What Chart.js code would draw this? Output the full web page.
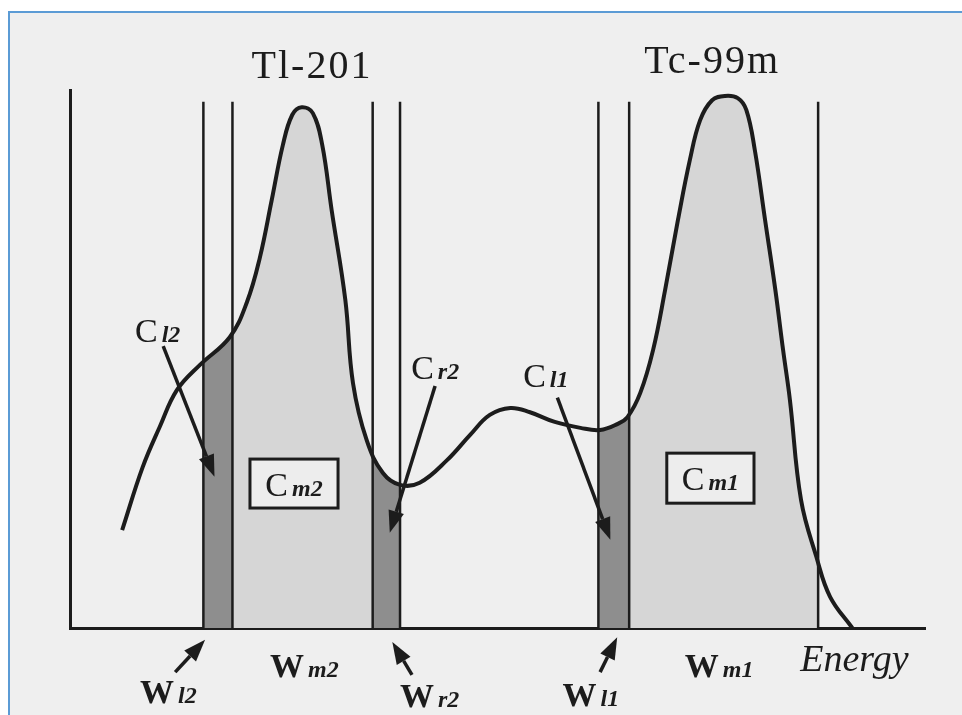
<!DOCTYPE html>
<html>
<head>
<meta charset="utf-8">
<script src="https://cdn.jsdelivr.net/npm/chart.js@4.4.1/dist/chart.umd.min.js"></script>
<style>
  html, body { margin: 0; padding: 0; background: #ffffff; overflow: hidden; }
  #frame {
    position: absolute; left: 8px; top: 11px; width: 960px; height: 710px;
    background: #efefef; border-left: 2px solid #5b9bd5; border-top: 2px solid #5b9bd5;
  }
  #wrap { position: absolute; left: 0; top: 0; width: 962px; height: 715px; }
</style>
</head>
<body>
<div id="frame"></div>
<div id="wrap"><canvas id="spectrum" width="962" height="715"></canvas></div>
<script>
// energy spectrum (arbitrary units)
const energy = [6.1, 8.5, 10.5, 12.5, 15.2, 18.7, 20.7, 22.2, 23.6, 24.9, 26.0, 27.1, 28.4, 29.5, 30.6, 32.2,
    33.1, 34.7, 36.6, 38.6, 40.9, 44.1, 46.8, 49.1, 51.5, 53.8, 56.7, 59.7, 62.0, 64.0, 65.2, 66.7, 68.2,
    69.6, 71.1, 72.5, 73.7, 75.1, 76.6, 78.1, 79.1, 80.1, 81.3, 82.5, 83.4, 84.2, 85.5, 87.3, 88.9, 91.5];
const counts = [18.2, 29.9, 37.4, 44.2, 48.9, 54.1, 60.6, 68.8, 79.6, 89.8, 95.4, 96.8, 95.7, 89.8, 77.7, 61.0,
    45.5, 34.9, 28.8, 26.6, 27.0, 31.2, 35.9, 39.6, 40.9, 40.1, 38.3, 37.2, 36.8, 37.9, 39.2, 43.7, 51.7,
    62.8, 75.8, 87.0, 94.4, 98.1, 98.9, 98.5, 96.3, 88.8, 75.8, 62.8, 51.7, 42.4, 23.8, 13.2, 5.8, 0];

// energy windows
const windowNames = ['Wl2', 'Wm2', 'Wr2', 'Wl1', 'Wm1'];
const windowStart = [15.6, 19.0, 35.4, 61.8, 65.4];
const windowEnd = [19.0, 35.4, 38.6, 65.4, 87.5];
const windowKind = ['sub', 'main', 'sub', 'sub', 'main'];
const edgeTop = 97.8;

const shade = { sub: '#8e8e8e', main: '#d6d6d6' };
const ink = '#1c1c1c';
const serif = '"Liberation Serif", "DejaVu Serif", serif';

// window edge lines (each distinct edge once)
const edges = [...new Set(windowStart.concat(windowEnd))];

const labels = [
    { main: 'C', sub: 'l2', x: 7.6, y: 53.2 },
    { main: 'C', sub: 'r2', x: 39.9, y: 46.3 },
    { main: 'C', sub: 'l1', x: 53.0, y: 44.8 },
    { main: 'W', sub: 'l2', x: 8.2, y: -13.9, bold: true },
    { main: 'W', sub: 'm2', x: 23.4, y: -9.1, bold: true },
    { main: 'W', sub: 'r2', x: 38.6, y: -14.7, bold: true },
    { main: 'W', sub: 'l1', x: 57.6, y: -14.5, bold: true },
    { main: 'W', sub: 'm1', x: 71.9, y: -9.1, bold: true }
];
const boxes = [
    { main: 'C', sub: 'm2', x0: 21.05, x1: 31.35, y0: 22.3, y1: 31.4 },
    { main: 'C', sub: 'm1', x0: 69.8, x1: 80.0, y0: 23.2, y1: 32.5 }
];
const arrows = [
    [10.9, 52.4, 16.9, 28.1],
    [42.7, 45.0, 37.4, 17.7],
    [57.0, 42.8, 63.2, 16.4],
    [12.3, -8.2, 15.8, -2.2],
    [40.0, -8.7, 37.7, -2.6],
    [62.0, -8.2, 64.0, -1.7]
];
const titles = [
    { text: 'Tl-201', x: 28.3, y: 104.1 },
    { text: 'Tc-99m', x: 75.1, y: 105.2 }
];

const bandFill = {
    id: 'bandFill',
    beforeDatasetsDraw(chart) {
        const line = chart.getDatasetMeta(0).dataset;
        const xs = chart.scales.x, area = chart.chartArea, ctx = chart.ctx;
        line.updateControlPoints(area, 'x');
        const pts = line.points;
        const first = pts[0], last = pts[pts.length - 1];
        windowStart.forEach((a, i) => {
            const left = xs.getPixelForValue(a), right = xs.getPixelForValue(windowEnd[i]);
            ctx.save();
            ctx.beginPath();
            ctx.rect(left, area.top, right - left, area.bottom - area.top);
            ctx.clip();
            ctx.beginPath();
            line.path(ctx);
            ctx.lineTo(last.x, area.bottom);
            ctx.lineTo(first.x, area.bottom);
            ctx.closePath();
            ctx.fillStyle = shade[windowKind[i]];
            ctx.fill();
            ctx.restore();
        });
    }
};

function drawLabel(ctx, item, x, y) {
    ctx.textAlign = 'left';
    ctx.textBaseline = 'alphabetic';
    ctx.font = (item.bold ? 'bold ' : '') + '34px ' + serif;
    ctx.fillText(item.main, x, y);
    const w = ctx.measureText(item.main).width;
    ctx.font = 'italic bold 24px ' + serif;
    ctx.fillText(item.sub, x + w + 4, y);
}

function labelWidth(ctx, item) {
    ctx.font = (item.bold ? 'bold ' : '') + '34px ' + serif;
    const w = ctx.measureText(item.main).width;
    ctx.font = 'italic bold 24px ' + serif;
    return w + 4 + ctx.measureText(item.sub).width;
}

function drawArrow(ctx, x1, y1, x2, y2) {
    const ang = Math.atan2(y2 - y1, x2 - x1);
    const head = 22, half = 8;
    const bx = x2 - head * Math.cos(ang), by = y2 - head * Math.sin(ang);
    ctx.beginPath();
    ctx.moveTo(x1, y1);
    ctx.lineTo(bx, by);
    ctx.lineWidth = 3.5;
    ctx.stroke();
    ctx.beginPath();
    ctx.moveTo(x2, y2);
    ctx.lineTo(bx + half * Math.sin(ang), by - half * Math.cos(ang));
    ctx.lineTo(bx - half * Math.sin(ang), by + half * Math.cos(ang));
    ctx.closePath();
    ctx.fill();
}

const notes = {
    id: 'notes',
    afterDatasetsDraw(chart) {
        const ctx = chart.ctx, xs = chart.scales.x, ys = chart.scales.y;
        ctx.save();
        ctx.fillStyle = ink;
        ctx.strokeStyle = ink;

        titles.forEach(t => {
            ctx.font = '40px ' + serif;
            ctx.letterSpacing = '2px';
            ctx.textAlign = 'center';
            ctx.textBaseline = 'middle';
            ctx.fillText(t.text, xs.getPixelForValue(t.x), ys.getPixelForValue(t.y));
            ctx.letterSpacing = '0px';
        });

        boxes.forEach(b => {
            const l = xs.getPixelForValue(b.x0), r = xs.getPixelForValue(b.x1);
            const t = ys.getPixelForValue(b.y1), bt = ys.getPixelForValue(b.y0);
            ctx.fillStyle = '#ededed';
            ctx.fillRect(l, t, r - l, bt - t);
            ctx.lineWidth = 3;
            ctx.strokeRect(l, t, r - l, bt - t);
            ctx.fillStyle = ink;
            const w = labelWidth(ctx, b);
            drawLabel(ctx, b, (l + r) / 2 - w / 2, (t + bt) / 2 + 12);
        });

        labels.forEach(item => {
            drawLabel(ctx, item, xs.getPixelForValue(item.x), ys.getPixelForValue(item.y));
        });

        arrows.forEach(a => {
            drawArrow(ctx, xs.getPixelForValue(a[0]), ys.getPixelForValue(a[1]),
                xs.getPixelForValue(a[2]), ys.getPixelForValue(a[3]));
        });

        ctx.font = 'italic 38px ' + serif;
        ctx.textAlign = 'left';
        ctx.textBaseline = 'alphabetic';
        ctx.fillText('Energy', xs.getPixelForValue(85.4), ys.getPixelForValue(-8.0));
        ctx.restore();
    }
};

const datasets = [{
    label: 'spectrum',
    data: energy.map((e, i) => ({ x: e, y: counts[i] })),
    borderColor: ink,
    borderWidth: 4,
    pointRadius: 0,
    fill: false,
    tension: 0.4,
    order: 0
}];
edges.forEach(e => {
    datasets.push({
        label: 'edge',
        data: [{ x: e, y: 0 }, { x: e, y: edgeTop }],
        borderColor: ink,
        borderWidth: 2.5,
        pointRadius: 0,
        tension: 0,
        order: 1
    });
});

new Chart(document.getElementById('spectrum'), {
    type: 'line',
    data: { datasets },
    options: {
        responsive: false,
        animation: false,
        events: [],
        layout: { padding: { left: 70, top: 90, right: 37, bottom: 87 } },
        plugins: { legend: { display: false }, tooltip: { enabled: false } },
        scales: {
            x: {
                type: 'linear', min: 0, max: 100,
                grid: { display: false, drawTicks: false },
                ticks: { display: false },
                border: { display: true, color: ink, width: 3 }
            },
            y: {
                type: 'linear', min: 0, max: 100,
                grid: { display: false, drawTicks: false },
                ticks: { display: false },
                border: { display: true, color: ink, width: 3 }
            }
        }
    },
    plugins: [bandFill, notes]
});
</script>
</body>
</html>
